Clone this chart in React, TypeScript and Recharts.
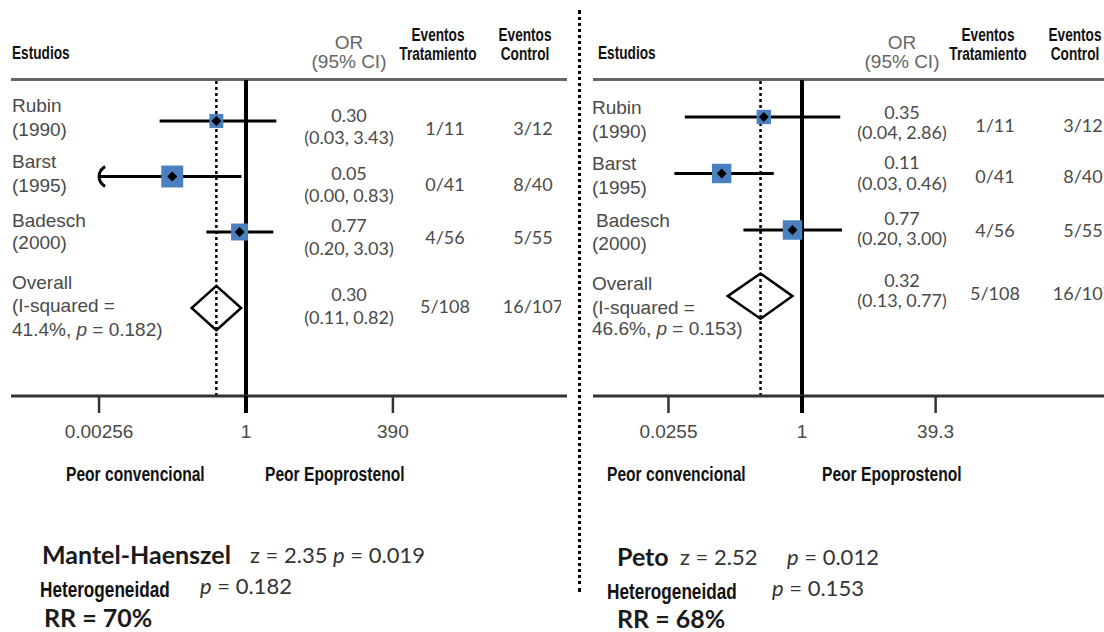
import React from 'react';
import {
  ComposedChart,
  Scatter,
  ErrorBar,
  XAxis,
  YAxis,
  ReferenceLine,
  ReferenceArea,
  ReferenceDot
} from 'recharts';

// shared study info
const studyNames = ['Rubin', 'Barst', 'Badesch'];
const studyYears = ['(1990)', '(1995)', '(2000)'];
const eventsTreatment = ['1/11', '0/41', '4/56', '5/108'];
const eventsControl = ['3/12', '8/40', '5/55', '16/107'];

// Mantel-Haenszel panel
const mhOR = [0.30, 0.05, 0.77];
const mhLow = [0.03, 0.00, 0.20];
const mhHigh = [3.43, 0.83, 3.03];
const mhWeight = [20.2, 49.9, 29.9];
const mhPooled = [0.30, 0.11, 0.82];
const mhHet = ['41.4%', '0.182'];
const mhTicks = [0.00256, 1, 390];

// Peto panel
const petoOR = [0.35, 0.11, 0.77];
const petoLow = [0.04, 0.03, 0.20];
const petoHigh = [2.86, 0.46, 3.00];
const petoWeight = [21.4, 39.3, 39.3];
const petoPooled = [0.32, 0.13, 0.77];
const petoHet = ['46.6%', '0.153'];
const petoTicks = [0.0255, 1, 39.3];

const PLOT_TOP = 80;
const PLOT_BOTTOM = 396;
const CHART_H = 460;
const SQUARE_SCALE = 31;

// no narrow face installed, so bold Liberation Sans gets squeezed instead
const NARROW = "'Liberation Sans', Arial, sans-serif";
const SQUEEZE = 0.78;
const ARIAL = "'Liberation Sans', Arial, sans-serif";
const NUM = "Lato, 'Open Sans', sans-serif";
const GREY = '#4a4a4a';

const leftLayout = {
  plotLeft: 11, plotRight: 567, clipRight: 561,
  nullX: 246, perDecade: 56.7,
  firstRowY: 121, rowGap: 55.5, overallRow: 3.37,
  labelX: [12, 12, 12],
  labelY: [[105, 129], [161, 185], [220, 242], [282, 305, 329]],
  orX: 349,
  orY: [[115, 137], [173, 195], [225, 248], [294, 317]],
  treatX: 445, ctrlX: 533,
  evY: [128, 184, 237, 306],
  head: { est: 12, or: 349, treat: 438, ctrl: 525 }
};

const rightLayout = {
  plotLeft: 593, plotRight: 1104, clipRight: 1104,
  nullX: 802, perDecade: 83.8,
  firstRowY: 117, rowGap: 56.5, overallRow: 3.17,
  labelX: [592, 592, 596],
  labelY: [[107, 131], [163, 187], [220, 243], [283, 307, 328]],
  orX: 902,
  orY: [[112, 132], [162, 183], [218, 238], [280, 300]],
  treatX: 995, ctrlX: 1083,
  evY: [125, 176, 230, 293],
  head: { est: 598, or: 902, treat: 988, ctrl: 1075 }
};

const Txt = ({ x, y, center, squeeze, style, children }: any) => (
  <div
    style={{
      position: 'absolute',
      left: x,
      top: y,
      transform: `translate(${center ? '-50%' : '0'}, -50%)${squeeze ? ` scaleX(${SQUEEZE})` : ''}`,
      transformOrigin: center ? '50% 50%' : '0 50%',
      whiteSpace: 'nowrap',
      lineHeight: 1,
      ...style
    }}
  >
    {children}
  </div>
);

const renderTick = (props: any) => {
  const { x, y, payload } = props;
  const isNull = payload.value === 1;
  return (
    <g>
      <line x1={x} x2={x} y1={y - 17} y2={y} stroke={isNull ? '#000' : '#333'} strokeWidth={isNull ? 4 : 2.5} />
      <text x={x} y={y + 25} textAnchor="middle" fontFamily={ARIAL} fontSize={19} fill={GREY}>
        {payload.value}
      </text>
    </g>
  );
};

const renderMarker = (props: any) => {
  const { cx, cy, payload } = props;
  const s = SQUARE_SCALE * Math.sqrt(payload.w / 100);
  return (
    <g>
      <rect x={cx - s / 2} y={cy - s / 2} width={s} height={s} fill="#4a7fc0" />
      <path d={`M${cx} ${cy - 5}L${cx + 5} ${cy}L${cx} ${cy + 5}L${cx - 5} ${cy}Z`} fill="#000" />
    </g>
  );
};

const renderArrow = (props: any) => {
  const { cx, cy } = props;
  return (
    <path
      d={`M${cx + 6} ${cy - 10}Q${cx} ${cy - 6} ${cx} ${cy}Q${cx} ${cy + 6} ${cx + 6} ${cy + 10}`}
      fill="none"
      stroke="#000"
      strokeWidth={3}
    />
  );
};

const ForestPanel = ({ L, or, low, high, weight, pooled, het, ticks }: any) => {
  const xDomain = [
    Math.pow(10, (L.plotLeft - L.nullX) / L.perDecade),
    Math.pow(10, (L.plotRight - L.nullX) / L.perDecade)
  ];
  const yDomain = [-(L.firstRowY - PLOT_TOP) / L.rowGap, (PLOT_BOTTOM - L.firstRowY) / L.rowGap];
  const clipLow = ticks[0];

  const rows = or.map((v: number, i: number) => ({
    row: i,
    or: v,
    err: [v - Math.max(low[i], clipLow), high[i] - v],
    w: weight[i]
  }));

  const diamond = (p: any) => {
    const { x, y, width, height } = p;
    const f = (Math.log(pooled[0]) - Math.log(pooled[1])) / (Math.log(pooled[2]) - Math.log(pooled[1]));
    const cx = x + f * width;
    const cy = y + height / 2;
    return (
      <path
        d={`M${cx} ${y}L${x + width} ${cy}L${cx} ${y + height}L${x} ${cy}Z`}
        fill="none"
        stroke="#000"
        strokeWidth={2.5}
      />
    );
  };

  const headStyle = { fontFamily: NARROW, fontWeight: 700, fontSize: 17.5, color: '#111' };
  const labelStyle = { fontFamily: ARIAL, fontSize: 19, color: GREY };
  const numStyle = { fontFamily: NUM, fontSize: 18, color: GREY };
  const fmt = (v: number) => v.toFixed(2);

  return (
    <>
      {/* header rule */}
      <div
        style={{
          position: 'absolute',
          left: L.plotLeft,
          top: 78,
          width: L.plotRight - L.plotLeft,
          height: 3,
          background: '#666'
        }}
      />
      <div style={{ position: 'absolute', left: L.plotLeft - 10, top: 0 }}>
        <ComposedChart
          width={L.plotRight - L.plotLeft + 20}
          height={CHART_H}
          margin={{ top: PLOT_TOP, right: 10, bottom: 0, left: 10 }}
        >
          <XAxis
            type="number"
            dataKey="or"
            scale="log"
            domain={xDomain}
            allowDataOverflow
            ticks={ticks}
            interval={0}
            height={CHART_H - PLOT_BOTTOM}
            tickSize={17}
            tickMargin={0}
            tickLine={false}
            axisLine={{ stroke: '#333', strokeWidth: 3 }}
            tick={renderTick}
          />
          <YAxis type="number" dataKey="row" domain={yDomain} allowDataOverflow reversed hide width={0} />
          <ReferenceLine x={pooled[0]} stroke="#000" strokeWidth={2.5} strokeDasharray="3 3" />
          <ReferenceLine x={1} stroke="#000" strokeWidth={4} />
          <ReferenceArea
            x1={pooled[1]}
            x2={pooled[2]}
            y1={L.overallRow - 0.4}
            y2={L.overallRow + 0.4}
            shape={diamond}
          />
          {rows
            .filter((r: any) => low[r.row] < clipLow)
            .map((r: any) => (
              <ReferenceDot key={r.row} x={clipLow} y={r.row} r={1} shape={renderArrow} />
            ))}
          <Scatter data={rows} shape={renderMarker} isAnimationActive={false}>
            <ErrorBar dataKey="err" direction="x" width={0} stroke="#000" strokeWidth={3} isAnimationActive={false} />
          </Scatter>
        </ComposedChart>
      </div>

      <div
        style={{
          position: 'absolute',
          left: 0,
          top: 0,
          width: L.clipRight,
          height: CHART_H,
          overflow: 'hidden',
          pointerEvents: 'none'
        }}
      >
        <Txt x={L.head.est} y={54} squeeze style={headStyle}>Estudios</Txt>
        <Txt x={L.head.or} y={42} center style={{ ...labelStyle, color: '#666' }}>OR</Txt>
        <Txt x={L.head.or} y={61} center style={{ ...labelStyle, color: '#666' }}>(95% CI)</Txt>
        <Txt x={L.head.treat} y={36} center squeeze style={headStyle}>Eventos</Txt>
        <Txt x={L.head.treat} y={55} center squeeze style={headStyle}>Tratamiento</Txt>
        <Txt x={L.head.ctrl} y={36} center squeeze style={headStyle}>Eventos</Txt>
        <Txt x={L.head.ctrl} y={55} center squeeze style={headStyle}>Control</Txt>

        {studyNames.map((name, i) => (
          <React.Fragment key={name}>
            <Txt x={L.labelX[i]} y={L.labelY[i][0]} style={labelStyle}>{name}</Txt>
            <Txt x={L.labelX[0]} y={L.labelY[i][1]} style={labelStyle}>{studyYears[i]}</Txt>
            <Txt x={L.orX} y={L.orY[i][0]} center style={numStyle}>{fmt(or[i])}</Txt>
            <Txt x={L.orX} y={L.orY[i][1]} center style={numStyle}>
              ({fmt(low[i])}, {fmt(high[i])})
            </Txt>
            <Txt x={L.treatX} y={L.evY[i]} center style={numStyle}>{eventsTreatment[i]}</Txt>
            <Txt x={L.ctrlX} y={L.evY[i]} center style={numStyle}>{eventsControl[i]}</Txt>
          </React.Fragment>
        ))}

        <Txt x={L.labelX[0]} y={L.labelY[3][0]} style={labelStyle}>Overall</Txt>
        <Txt x={L.labelX[0]} y={L.labelY[3][1]} style={labelStyle}>(I-squared =</Txt>
        <Txt x={L.labelX[0]} y={L.labelY[3][2]} style={labelStyle}>
          {het[0]}, <i>p</i> = {het[1]})
        </Txt>
        <Txt x={L.orX} y={L.orY[3][0]} center style={numStyle}>{fmt(pooled[0])}</Txt>
        <Txt x={L.orX} y={L.orY[3][1]} center style={numStyle}>
          ({fmt(pooled[1])}, {fmt(pooled[2])})
        </Txt>
        <Txt x={L.treatX} y={L.evY[3]} center style={numStyle}>{eventsTreatment[3]}</Txt>
        <Txt x={L.ctrlX} y={L.evY[3]} center style={numStyle}>{eventsControl[3]}</Txt>
      </div>
    </>
  );
};

const App: React.FC = () => {
  const favour = { fontFamily: NARROW, fontWeight: 700, fontSize: 20, color: '#111' };
  const big = { fontFamily: NUM, fontWeight: 700, fontSize: 25, color: '#1a1a1a' };
  const stat = { fontFamily: NUM, fontSize: 22, color: '#333' };
  const het = { fontFamily: NARROW, fontWeight: 700, fontSize: 22, color: '#111' };

  return (
    <div
      style={{
        position: 'absolute',
        left: 0,
        top: 0,
        width: 1104,
        height: 632,
        overflow: 'hidden',
        background: '#fff'
      }}
    >
      <ForestPanel
        L={leftLayout}
        or={mhOR}
        low={mhLow}
        high={mhHigh}
        weight={mhWeight}
        pooled={mhPooled}
        het={mhHet}
        ticks={mhTicks}
      />
      <ForestPanel
        L={rightLayout}
        or={petoOR}
        low={petoLow}
        high={petoHigh}
        weight={petoWeight}
        pooled={petoPooled}
        het={petoHet}
        ticks={petoTicks}
      />

      {/* dotted divider between the two analyses */}
      <div style={{ position: 'absolute', left: 578, top: 10, height: 582, borderLeft: '3px dotted #000' }} />

      <Txt x={66} y={474} squeeze style={favour}>Peor convencional</Txt>
      <Txt x={265} y={474} squeeze style={favour}>Peor Epoprostenol</Txt>
      <Txt x={607} y={474} squeeze style={favour}>Peor convencional</Txt>
      <Txt x={822} y={474} squeeze style={favour}>Peor Epoprostenol</Txt>

      <Txt x={42} y={554} style={big}>Mantel-Haenszel</Txt>
      <Txt x={250} y={555} style={stat}>
        z = 2.35 <i>p</i> = 0.019
      </Txt>
      <Txt x={40} y={590} squeeze style={het}>Heterogeneidad</Txt>
      <Txt x={200} y={586} style={stat}>
        <i>p</i> = 0.182
      </Txt>
      <Txt x={44} y={617} style={big}>RR = 70%</Txt>

      <Txt x={617} y={556} style={big}>Peto</Txt>
      <Txt x={680} y={557} style={stat}>z = 2.52</Txt>
      <Txt x={787} y={557} style={stat}>
        <i>p</i> = 0.012
      </Txt>
      <Txt x={607} y={592} squeeze style={het}>Heterogeneidad</Txt>
      <Txt x={772} y={588} style={stat}>
        <i>p</i> = 0.153
      </Txt>
      <Txt x={617} y={618} style={big}>RR = 68%</Txt>
    </div>
  );
};

export default App;
